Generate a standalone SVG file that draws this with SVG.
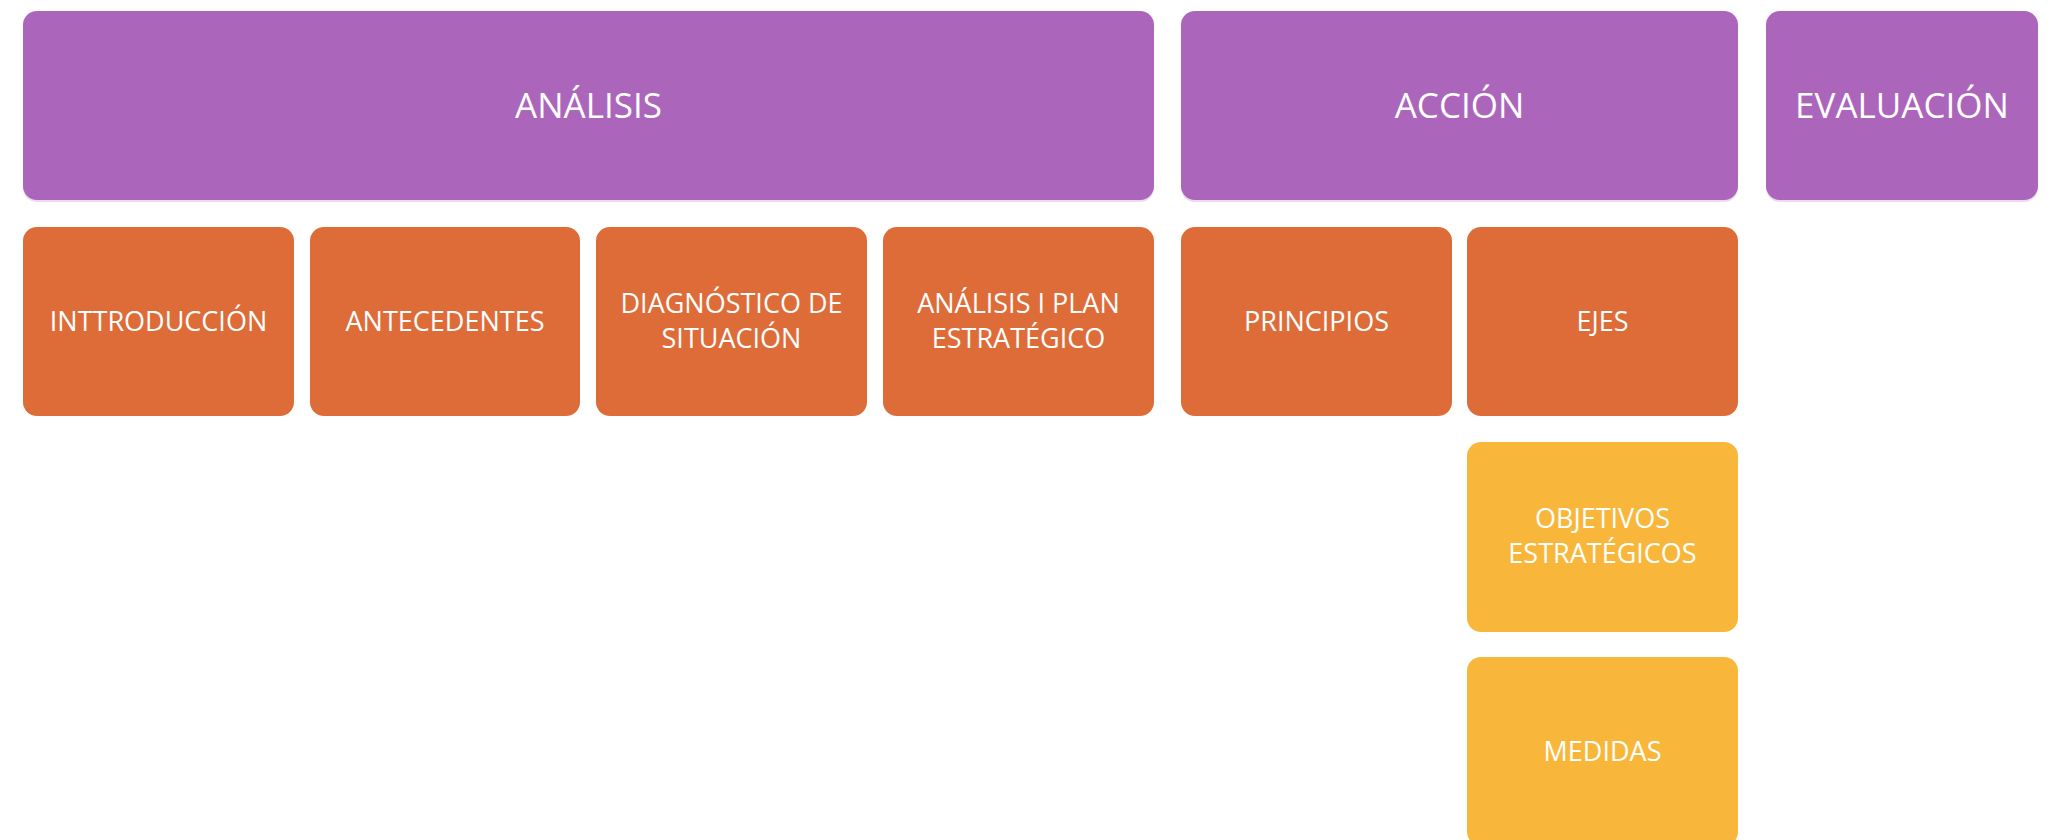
<svg xmlns="http://www.w3.org/2000/svg" width="2050" height="840" viewBox="0 0 2050 840">
<style>
.p{fill:#AB66BC}
.o{fill:#DE6C38}
.y{fill:#F8B73B}
.sh{fill:#EADCEE}
text{fill:#FFFFFF;font-family:"Open Sans","Liberation Sans",sans-serif;text-anchor:middle}
.big{font-size:35px}
.sm{font-size:27px}
</style>
<rect width="2050" height="840" fill="#FFFFFF"/>
<g id="connectors"></g>
<g id="analisis">
<rect class="sh" x="23" y="13" width="1131" height="189" rx="14"/>
<rect class="p" x="23" y="11" width="1131" height="189" rx="14"/>
<text class="big" x="588.5" y="118">ANÁLISIS</text>
</g>
<g id="accion">
<rect class="sh" x="1181" y="13" width="557" height="189" rx="14"/>
<rect class="p" x="1181" y="11" width="557" height="189" rx="14"/>
<text class="big" x="1459.5" y="118">ACCIÓN</text>
</g>
<g id="evaluacion">
<rect class="sh" x="1766" y="13" width="272" height="189" rx="14"/>
<rect class="p" x="1766" y="11" width="272" height="189" rx="14"/>
<text class="big" x="1902" y="118">EVALUACIÓN</text>
</g>
<g id="introduccion">
<rect class="o" x="23" y="227" width="271" height="189" rx="14"/>
<text class="sm" x="158.5" y="331">INTTRODUCCIÓN</text>
</g>
<g id="antecedentes">
<rect class="o" x="310" y="227" width="270" height="189" rx="14"/>
<text class="sm" x="445" y="331">ANTECEDENTES</text>
</g>
<g id="diagnostico">
<rect class="o" x="596" y="227" width="271" height="189" rx="14"/>
<text class="sm" x="731.5" y="313">DIAGNÓSTICO DE</text>
<text class="sm" x="731.5" y="348">SITUACIÓN</text>
</g>
<g id="analisis-plan">
<rect class="o" x="883" y="227" width="271" height="189" rx="14"/>
<text class="sm" x="1018.5" y="313">ANÁLISIS I PLAN</text>
<text class="sm" x="1018.5" y="348">ESTRATÉGICO</text>
</g>
<g id="principios">
<rect class="o" x="1181" y="227" width="271" height="189" rx="14"/>
<text class="sm" x="1316.5" y="331">PRINCIPIOS</text>
</g>
<g id="ejes">
<rect class="o" x="1467" y="227" width="271" height="189" rx="14"/>
<text class="sm" x="1602.5" y="331">EJES</text>
</g>
<g id="objetivos">
<rect class="y" x="1467" y="442" width="271" height="190" rx="14"/>
<text class="sm" x="1602.5" y="528">OBJETIVOS</text>
<text class="sm" x="1602.5" y="563">ESTRATÉGICOS</text>
</g>
<g id="medidas">
<rect class="y" x="1467" y="657" width="271" height="189" rx="14"/>
<text class="sm" x="1602.5" y="761">MEDIDAS</text>
</g>
</svg>
